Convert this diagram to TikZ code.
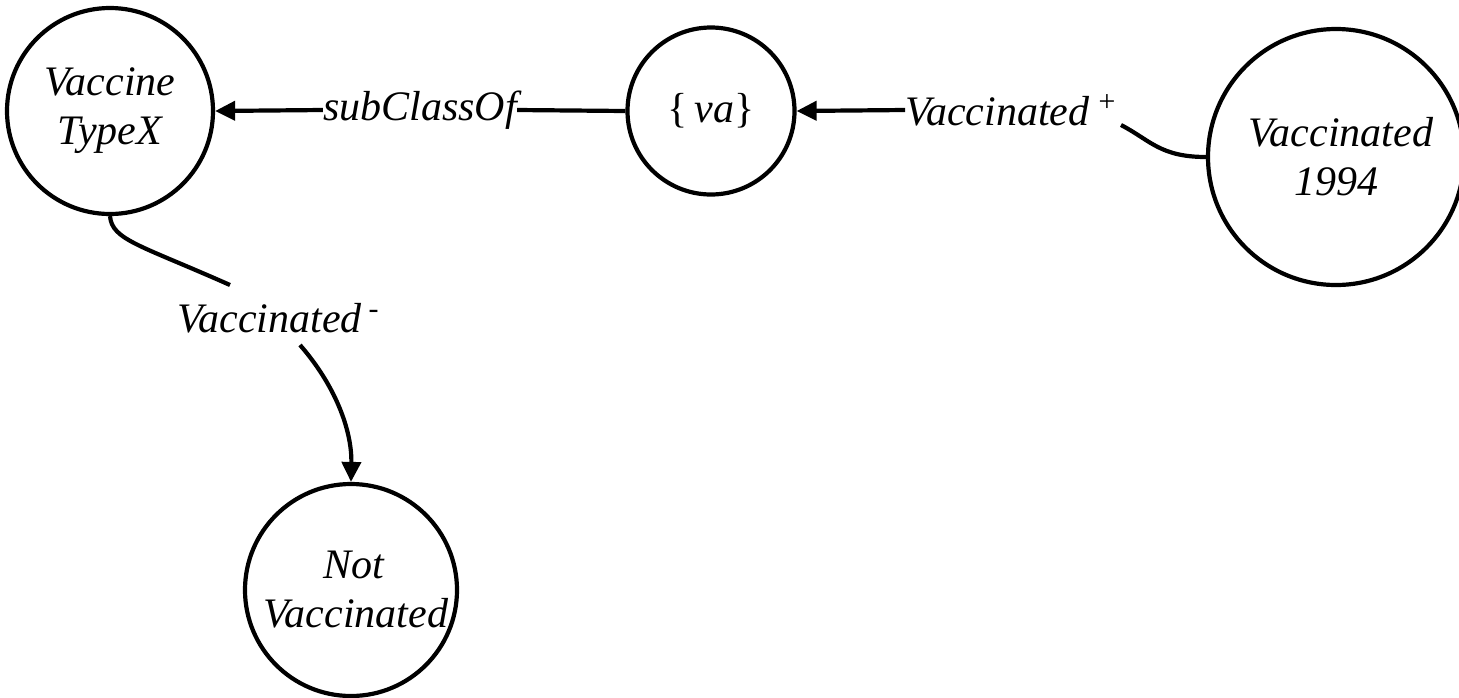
\documentclass[tikz,border=0pt]{standalone}
\usepackage{fontspec}
\setmainfont{Liberation Serif}
\usetikzlibrary{arrows.meta}
\newcommand{\supmark}[1]{\raisebox{14pt}{\fontsize{30}{30}\selectfont #1}}
\begin{document}
\begin{tikzpicture}[x=1pt,y=-1pt,
  every node/.style={font=\fontsize{42}{49}\selectfont\itshape},
  concept/.style={circle,draw,line width=4.2pt,inner sep=0pt,align=center},
  edgelabel/.style={inner sep=0pt},
  arr/.style={line width=4.2pt,-{Triangle[length=20pt,width=19pt]}},
  plain/.style={line width=4.2pt}]
\useasboundingbox (0,0) rectangle (1459,697);
\node[concept,minimum size=206pt] (vtx) at (110,111) {Vaccine\\TypeX};
\node[concept,minimum size=167pt] (va) at (711,111) {\textup{\{}\,va\textup{\}}};
\node[concept,minimum size=256pt] (v94) at (1336,157) {\hspace*{10pt}Vaccinated\\1994};
\node[concept,minimum size=212pt] (nv) at (351,590) {\hspace*{6pt}Not\\\hspace*{10pt}Vaccinated};
\node[edgelabel] (sub) at (420,110) {subClassOf};
\node[edgelabel] (vplus) at (1011,110) {Vaccinated\,\supmark{+}};
\node[edgelabel] (vminus) at (278,318) {Vaccinated\,\supmark{-}};
\coordinate (cplus) at (1121,125);
\coordinate (cm1) at (230,285);
\coordinate (cm2) at (300,345);
\draw[arr] (sub.west) -- (vtx.east);
\draw[plain] (va.west) -- (sub.east);
\draw[arr] (vplus.west) -- (va.east);
\draw[plain] (v94.west) .. controls (1160,157) and (1150,140) .. (cplus);
\draw[plain] (vtx.south) .. controls (112,240) and (140,245) .. (cm1);
\draw[arr] (cm2) .. controls (335,385) and (352,430) .. (nv.north);
\end{tikzpicture}
\end{document}
